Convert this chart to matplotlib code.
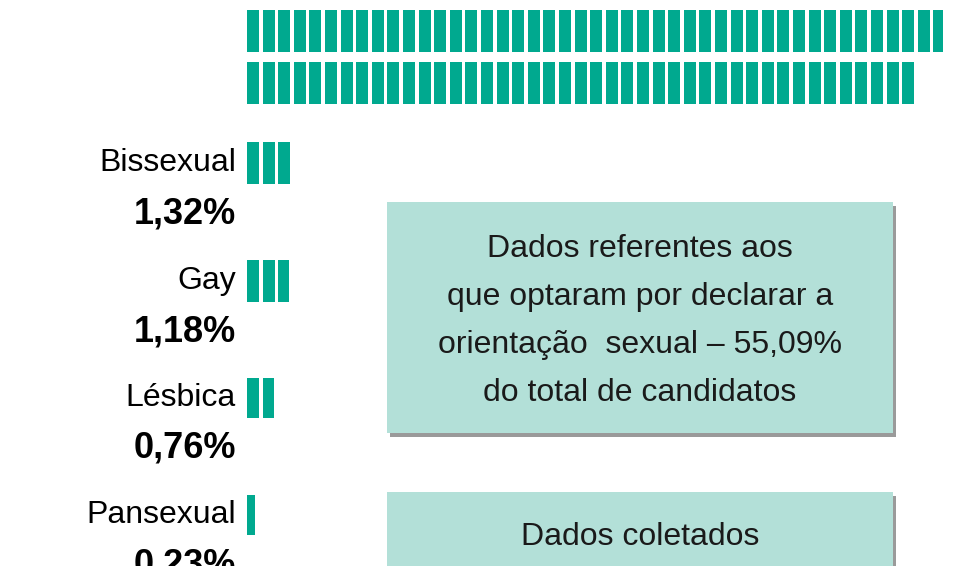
import matplotlib.pyplot as plt
from matplotlib.patches import Rectangle

# values in percent (top two bars are cropped off in the reference)
labels = ['', '', 'Bissexual', 'Gay', 'Lésbica', 'Pansexual']
values = [19.55, 18.73, 1.32, 1.18, 0.76, 0.23]
pct_text = ['', '', '1,32%', '1,18%', '0,76%', '0,23%']
row_top = [10, 62, 142, 260, 378, 495]
row_h = [42, 42, 42, 42, 40, 40]

teal = '#00a98f'
box_fill = '#b3e0d8'
fam = ['Liberation Sans Narrow', 'Liberation Sans', 'DejaVu Sans']
px_per_pct = 35.6
pitch = 15.6
seg_w = 12.0
x0 = 247

fig = plt.figure(figsize=(9.71, 5.66), dpi=100)
ax = fig.add_axes([0, 0, 1, 1])
ax.set_xlim(0, 971)
ax.set_ylim(566, 0)
ax.axis('off')

for lab, v, pt, top, h in zip(labels, values, pct_text, row_top, row_h):
    total = v * px_per_pct
    x = 0.0
    while x < total - 0.5:
        w = min(seg_w, total - x)
        ax.add_patch(Rectangle((x0 + x, top), w, h, color=teal, lw=0))
        x += pitch
    if lab:
        ax.text(236, top + h / 2, lab, ha='right', va='center', fontsize=23, family=fam)
        ax.text(236, top + h + 30, pt, ha='right', va='center', fontsize=26,
                fontweight='bold', family=fam)

def box(y0, y1, lines, ys):
    ax.add_patch(Rectangle((390, y0 + 4), 506, y1 - y0, color='#9a9a9a', lw=0))
    ax.add_patch(Rectangle((387, y0), 506, y1 - y0, color=box_fill, lw=0))
    for t, y in zip(lines, ys):
        ax.text(640, y, t, ha='center', va='center', fontsize=23, family=fam, color='#1a1a1a')

box(202, 433, ['Dados referentes aos', 'que optaram por declarar a',
               'orientação  sexual – 55,09%', 'do total de candidatos'],
    [249, 297, 345, 393])
box(492, 600, ['Dados coletados'], [537])

fig.savefig('out.png', dpi=100)
